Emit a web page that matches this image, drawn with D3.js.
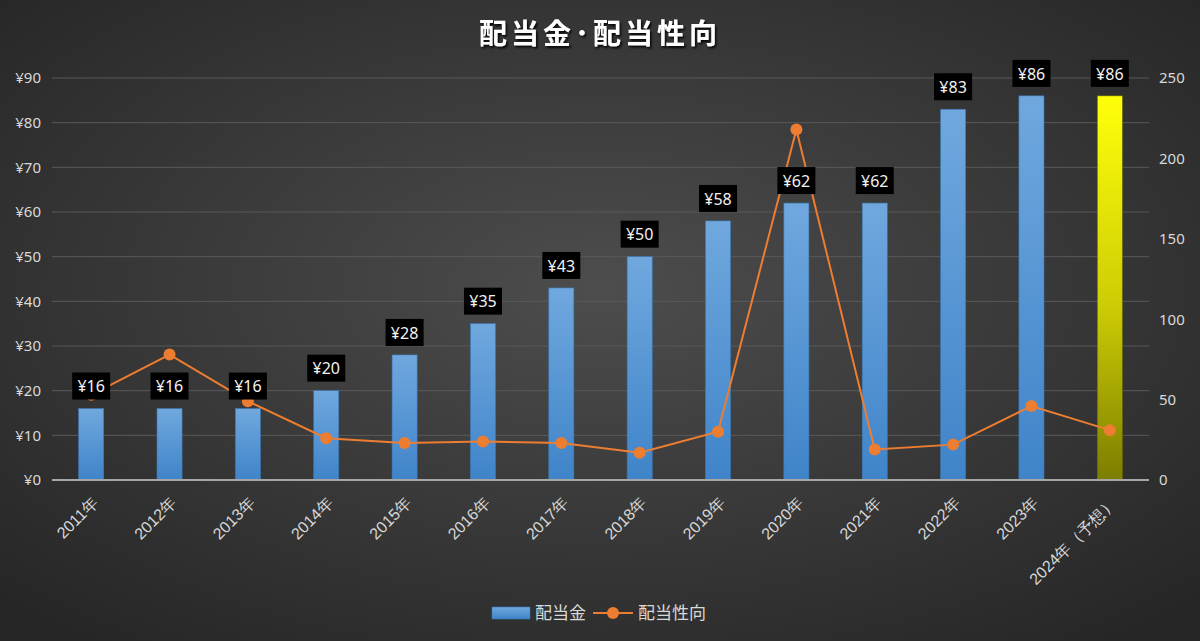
<!DOCTYPE html>
<html>
<head>
<meta charset="utf-8">
<script src="https://cdn.jsdelivr.net/npm/d3@7"></script>
<style>
  html, body { margin: 0; padding: 0; background: #333; }
  svg { display: block; font-family: "Noto Sans CJK JP", "Noto Sans", sans-serif; }
</style>
</head>
<body>
<div id="chart"></div>
<script>
// 配当金・配当性向
const years = ["2011年", "2012年", "2013年", "2014年", "2015年", "2016年", "2017年",
  "2018年", "2019年", "2020年", "2021年", "2022年", "2023年", "2024年（予想）"];
const dividends = [16, 16, 16, 20, 28, 35, 43, 50, 58, 62, 62, 83, 86, 86];
const payoutRatio = [53, 78, 49, 26, 23, 24, 23, 17, 30, 218, 19, 22, 46, 31];
const leftTicks = [0, 10, 20, 30, 40, 50, 60, 70, 80, 90];
const rightTicks = [0, 50, 100, 150, 200, 250];
const forecastIndex = 13;

const width = 1200, height = 641;
const margin = { top: 78, right: 51, bottom: 161, left: 52 };

const svg = d3.select("#chart").append("svg")
  .attr("width", width)
  .attr("height", height);

const defs = svg.append("defs");

let bg = defs.append("radialGradient")
  .attr("id", "bg")
  .attr("cx", "50%").attr("cy", "45%").attr("r", "70%");
bg.append("stop").attr("offset", "0%").attr("stop-color", "#4d4d4d");
bg.append("stop").attr("offset", "100%").attr("stop-color", "#262626");

let blue = defs.append("linearGradient")
  .attr("id", "blueBar").attr("x1", 0).attr("y1", 0).attr("x2", 0).attr("y2", 1);
blue.append("stop").attr("offset", "0%").attr("stop-color", "#70a8de");
blue.append("stop").attr("offset", "100%").attr("stop-color", "#3f84c9");

let yellow = defs.append("linearGradient")
  .attr("id", "yellowBar").attr("x1", 0).attr("y1", 0).attr("x2", 0).attr("y2", 1);
yellow.append("stop").attr("offset", "0%").attr("stop-color", "#ffff0a");
yellow.append("stop").attr("offset", "55%").attr("stop-color", "#cccc05");
yellow.append("stop").attr("offset", "100%").attr("stop-color", "#7d7d00");

let shadow = defs.append("filter").attr("id", "shadow")
  .attr("x", "-10%").attr("y", "-20%").attr("width", "130%").attr("height", "150%");
shadow.append("feDropShadow")
  .attr("dx", 1.5).attr("dy", 2).attr("stdDeviation", 1)
  .attr("flood-color", "#000").attr("flood-opacity", 0.9);

svg.append("rect")
  .attr("width", width).attr("height", height)
  .attr("fill", "url(#bg)");

const x = d3.scaleBand()
  .domain(years)
  .range([margin.left, width - margin.right])
  .paddingInner(0.68)
  .paddingOuter(0.34);

const y = d3.scaleLinear()
  .domain([0, 90])
  .range([height - margin.bottom, margin.top]);

const y2 = d3.scaleLinear()
  .domain([0, 250])
  .range([height - margin.bottom, margin.top]);

// gridlines
svg.append("g")
  .selectAll("line")
  .data(leftTicks.slice(1))
  .enter().append("line")
  .attr("x1", margin.left)
  .attr("x2", width - margin.right)
  .attr("y1", d => y(d))
  .attr("y2", d => y(d))
  .attr("stroke", "#595959")
  .attr("stroke-width", 1);

// left axis
let leftAxis = svg.append("g")
  .attr("transform", `translate(${margin.left},0)`)
  .call(d3.axisLeft(y).tickValues(leftTicks).tickFormat(d => "¥" + d).tickSize(0).tickPadding(11));
leftAxis.select(".domain").remove();
leftAxis.selectAll("text")
  .attr("fill", "#d9d9d9")
  .style("font-size", "15px")
  .style("font-family", "'Noto Sans', sans-serif");

// right axis
let rightAxis = svg.append("g")
  .attr("transform", `translate(${width - margin.right},0)`)
  .call(d3.axisRight(y2).tickValues(rightTicks).tickSize(0).tickPadding(10));
rightAxis.select(".domain").remove();
rightAxis.selectAll("text")
  .attr("fill", "#d9d9d9")
  .style("font-size", "15px")
  .style("font-family", "'Noto Sans', sans-serif");

// bars
svg.append("g")
  .selectAll("rect")
  .data(dividends)
  .enter().append("rect")
  .attr("x", (d, i) => x(years[i]))
  .attr("y", d => y(d))
  .attr("width", x.bandwidth())
  .attr("height", d => y(0) - y(d))
  .attr("fill", (d, i) => i === forecastIndex ? "url(#yellowBar)" : "url(#blueBar)")
  .attr("stroke", (d, i) => i === forecastIndex ? "#6b6b00" : "#3a78b5")
  .attr("stroke-width", 0.6);

// x axis baseline
let bottomAxis = svg.append("g")
  .attr("transform", `translate(0,${y(0)})`)
  .call(d3.axisBottom(x).tickSize(0).tickPadding(0));
bottomAxis.select(".domain")
  .attr("stroke", "#a6a6a6")
  .attr("stroke-width", 2)
  .attr("d", `M${margin.left},0H${width - margin.right}`);
bottomAxis.selectAll("text")
  .attr("fill", "#d9d9d9")
  .style("font-size", "16px")
  .attr("text-anchor", "end")
  .attr("dy", "0.35em")
  .attr("transform", "translate(4,20) rotate(-45)");

// payout ratio line
const line = d3.line()
  .x((d, i) => x(years[i]) + x.bandwidth() / 2)
  .y(d => y2(d));

svg.append("path")
  .datum(payoutRatio)
  .attr("d", line)
  .attr("fill", "none")
  .attr("stroke", "#ed7d31")
  .attr("stroke-width", 2);

svg.append("g")
  .selectAll("circle")
  .data(payoutRatio)
  .enter().append("circle")
  .attr("cx", (d, i) => x(years[i]) + x.bandwidth() / 2)
  .attr("cy", d => y2(d))
  .attr("r", 6)
  .attr("fill", "#ed7d31");

// data labels
let labels = svg.append("g")
  .selectAll("g")
  .data(dividends)
  .enter().append("g")
  .attr("transform", (d, i) => `translate(${x(years[i]) + x.bandwidth() / 2},${y(d) - 22})`);

labels.append("rect")
  .attr("x", -19)
  .attr("y", -14)
  .attr("width", 38)
  .attr("height", 27)
  .attr("fill", "#000");

labels.append("text")
  .attr("text-anchor", "middle")
  .attr("dy", "0.36em")
  .attr("fill", "#f2f2f2")
  .style("font-size", "16px")
  .style("font-family", "'Noto Sans', sans-serif")
  .text(d => "¥" + d);

// title
svg.append("text")
  .attr("x", width / 2)
  .attr("y", 44)
  .attr("text-anchor", "middle")
  .attr("fill", "#ffffff")
  .attr("filter", "url(#shadow)")
  .style("font-size", "28px")
  .style("font-weight", "bold")
  .style("letter-spacing", "4px")
  .text("配当金･配当性向");

// legend
let legend = svg.append("g").attr("transform", "translate(492,613)");
legend.append("rect")
  .attr("x", 0).attr("y", -6)
  .attr("width", 38).attr("height", 12)
  .attr("fill", "url(#blueBar)")
  .attr("stroke", "#3a78b5").attr("stroke-width", 0.6);
legend.append("text")
  .attr("x", 43).attr("dy", "0.35em")
  .attr("fill", "#d9d9d9")
  .style("font-size", "17px")
  .text("配当金");
legend.append("line")
  .attr("x1", 101).attr("x2", 141)
  .attr("stroke", "#ed7d31").attr("stroke-width", 2);
legend.append("circle")
  .attr("cx", 121).attr("r", 6)
  .attr("fill", "#ed7d31");
legend.append("text")
  .attr("x", 146).attr("dy", "0.35em")
  .attr("fill", "#d9d9d9")
  .style("font-size", "17px")
  .text("配当性向");
</script>
</body>
</html>
